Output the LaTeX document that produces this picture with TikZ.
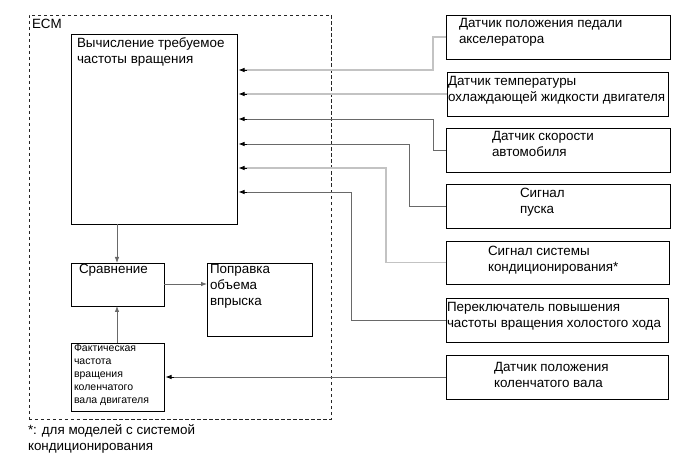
\documentclass[tikz,border=0pt]{standalone}
\usepackage{fontspec}
\setmainfont{Liberation Sans}
\usetikzlibrary{arrows.meta,calc}
\begin{document}
\begin{tikzpicture}[x=1bp,y=-1bp,
  box/.style={draw=black,line width=0.9bp,rectangle,inner sep=0pt,outer sep=0pt},
  txt/.style={anchor=north west,inner sep=0pt,outer sep=0pt,align=left,font=\fontsize{13.4bp}{16bp}\selectfont},
  small/.style={anchor=north west,inner sep=0pt,outer sep=0pt,align=left,font=\fontsize{10.5bp}{13bp}\selectfont},
  lgray/.style={draw={rgb,255:red,195;green,195;blue,195},line width=1.9bp},
  dgray/.style={draw={rgb,255:red,105;green,105;blue,105},line width=0.8bp},
  tip/.style={-{Latex[length=6bp,width=4.5bp]}},
  ecm/.style={draw=black!85,dashed,dash pattern=on 3.5bp off 2.5bp,line width=0.9bp}
]
\useasboundingbox (0,0) rectangle (691,465);
\newcommand\mkbox[5]{\node[box,minimum width={(#4-#2)*1bp},minimum height={(#5-#3)*1bp}] (#1) at ({(#2+#4)/2},{(#3+#5)/2}) {};}
% ECM frame
\node[ecm,rectangle,inner sep=0pt,minimum width=302bp,minimum height=404bp] (ecmf) at (180,217) {};
\node[txt] (ecml) at (32,19) {ECM};
% inner boxes
\mkbox{calc}{71}{34}{237}{224}
\mkbox{cmp}{71}{263}{164}{306}
\mkbox{corr}{207}{263}{312}{336}
\mkbox{act}{71}{343}{164}{411}
% right boxes
\mkbox{b1}{446}{15}{670}{59}
\mkbox{b2}{447}{72}{668}{116}
\mkbox{b3}{446}{128}{670}{172}
\mkbox{b4}{446}{184}{670}{228}
\mkbox{b5}{446}{241}{669}{284}
\mkbox{b6}{446}{298}{668}{342}
\mkbox{b7}{446}{355}{668}{399}
% texts
\node[txt] (tcalc) at (77,38) {Вычисление требуемое\\частоты вращения};
\node[txt] (tcmp) at (79,264) {Сравнение};
\node[txt] (tcorr) at (210,264) {Поправка\\объема\\впрыска};
\node[small] (tact) at (74,344) {Фактическая\\частота\\вращения\\коленчатого\\вала двигателя};
\node[txt] (t1) at (459,18) {Датчик положения педали\\акселератора};
\node[txt] (t2) at (448,76) {Датчик температуры\\охлаждающей жидкости двигателя};
\node[txt] (t3) at (492,131) {Датчик скорости\\автомобиля};
\node[txt] (t4) at (520,188) {Сигнал\\пуска};
\node[txt] (t5) at (488,246) {Сигнал системы\\кондиционирования*};
\node[txt] (t6) at (447,302) {Переключатель повышения\\частоты вращения холостого хода};
\node[txt] (t7) at (494,362) {Датчик положения\\коленчатого вала};
\node[txt] (foot) at (28,425) {*: для моделей с системой\\кондиционирования};
% connectors from sensors
\coordinate (e1) at ($(calc.north east)+(0,36)$);
\coordinate (e2) at ($(calc.north east)+(0,60)$);
\coordinate (e3) at ($(calc.north east)+(0,85)$);
\coordinate (e4) at ($(calc.north east)+(0,110)$);
\coordinate (e5) at ($(calc.north east)+(0,134)$);
\coordinate (e6) at ($(calc.north east)+(0,158)$);
\draw[lgray] (b1.west) -- ++(-13,0) |- ($(e1)+(6,0)$);
\draw[lgray] (b2.west) -- ($(e2)+(6,0)$);
\draw[dgray] (b3.west) -- ++(-13,0) |- ($(e3)+(6,0)$);
\draw[dgray] (b4.west) -- ++(-37,0) |- ($(e4)+(6,0)$);
\draw[lgray] (b5.west) -- ++(-60,0) |- ($(e5)+(6,0)$);
\draw[dgray] (b6.west) -- ++(-95,0) |- ($(e6)+(6,0)$);
\foreach \i in {1,...,6} {\draw[tip,draw=black,line width=0.8bp] ($(e\i)+(10,0)$) -- ($(e\i)+(1.5,0)$);}
\draw[dgray] (b7.west) -- ($(act.east)+(8,0)$);
\draw[tip,draw=black,line width=0.8bp] ($(act.east)+(10,0)$) -- ($(act.east)+(1.5,0)$);
\draw[dgray,-{Latex[length=6bp,width=4.5bp]}] (calc.south -| 117,0) -- (cmp.north -| 117,0);
\draw[dgray,-{Latex[length=6bp,width=4.5bp]}] (act.north -| 117,0) -- (cmp.south -| 117,0);
\draw[dgray,-{Latex[length=6bp,width=4.5bp]}] (cmp.east |- 0,284) -- (corr.west |- 0,284);
\end{tikzpicture}
\end{document}
